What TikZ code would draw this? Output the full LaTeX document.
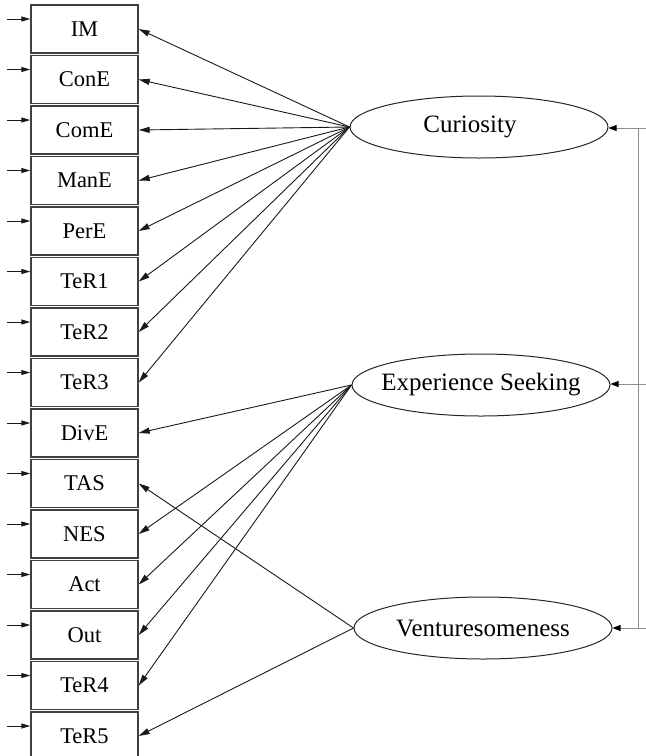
\documentclass[tikz,border=0pt]{standalone}
\usepackage{fontspec}
\setmainfont{Liberation Serif}
\usetikzlibrary{arrows.meta,shapes.geometric}
\begin{document}
\begin{tikzpicture}[x=1pt,y=-1pt,
  obs/.style={draw=black!75, line width=1.4pt, fill=white, minimum width=107pt,
    minimum height=48pt, inner sep=0pt, font=\fontsize{22.5}{26}\selectfont},
  latent/.style={ellipse, draw=black!85, line width=1pt, minimum width=258pt,
    minimum height=62pt, inner xsep=-20pt, inner ysep=0pt, font=\fontsize{25}{29}\selectfont},
  load/.style={draw=black!90, line width=0.9pt, -{Triangle[length=11pt,width=6pt]}},
  err/.style={draw=black!90, line width=1pt, -{Triangle[length=9pt,width=5pt]}},
  cor/.style={draw=black!45, line width=1pt},
  corin/.style={draw=black!45, line width=1pt, -{Triangle[length=8pt,width=6pt,fill=black,color=black]}}]
\useasboundingbox (0,0) rectangle (646,756);

% observed indicators with their error arrows
\foreach \n [count=\i from 0] in {IM,ConE,ComE,ManE,PerE,TeR1,TeR2,TeR3,DivE,TAS,NES,Act,Out,TeR4,TeR5} {
  \node[obs] (\n) at (84.5, 29+50.5*\i) {\n};
  \coordinate (\n-err) at (7, 19+50.5*\i);
  \draw[err] (\n-err) -- (\n.west |- \n-err);
}

% latent factors
\node[latent] (cur) at (479,127) {\hspace*{-18pt}Curiosity};
\node[latent] (exp) at (481,385) {Experience Seeking};
\node[latent] (ven) at (483,628) {Venturesomeness};

% factor loadings
\foreach \n in {IM,ConE,ComE,ManE,PerE,TeR1,TeR2,TeR3}
  \draw[load] (cur.west) -- (\n.east);
\foreach \n in {DivE,NES,Act,Out,TeR4}
  \draw[load] (exp.west) -- (\n.east);
\foreach \n in {TAS,TeR5}
  \draw[load] (ven.west) -- (\n.east);

% factor correlations bracket
\coordinate (rc) at (646,128);
\coordinate (re) at (646,384);
\coordinate (rv) at (646,628);
\coordinate (bt) at (638,128);
\coordinate (bb) at (638,628);
\draw[cor] (bt) -- (bb);
\draw[corin] (rc) -- (cur.east |- rc);
\draw[corin] (re) -- (exp.east |- re);
\draw[corin] (rv) -- (ven.east |- rv);
\end{tikzpicture}
\end{document}
